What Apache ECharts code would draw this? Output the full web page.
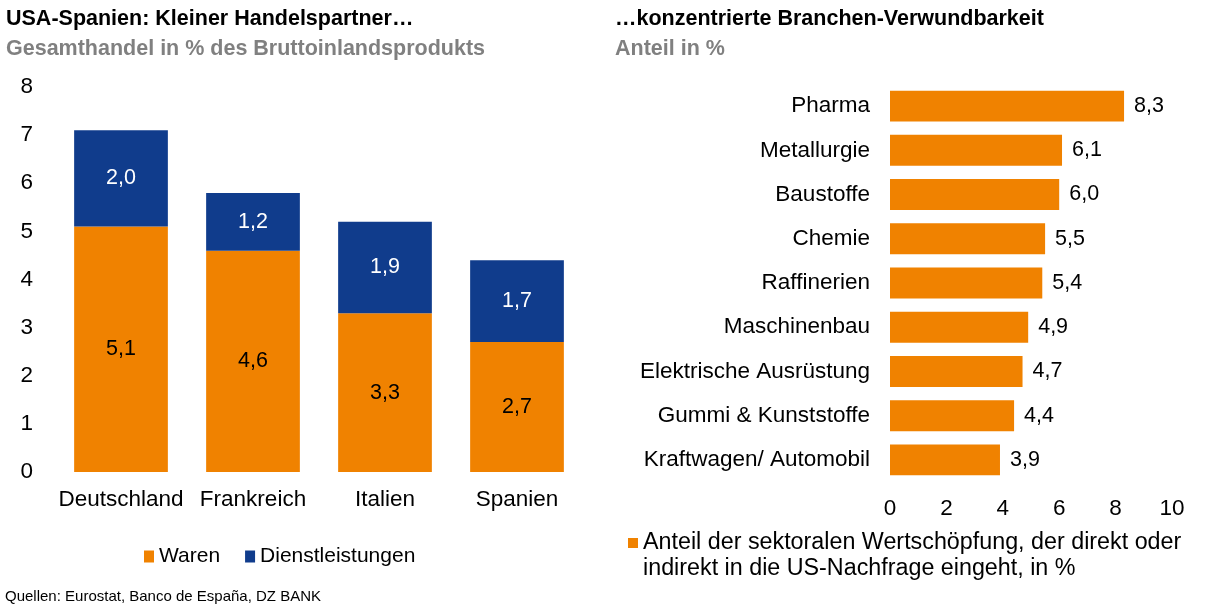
<!DOCTYPE html>
<html>
<head>
<meta charset="utf-8">
<script src="https://cdn.jsdelivr.net/npm/echarts@6/dist/echarts.min.js"></script>
<style>
  html, body { margin: 0; padding: 0; background: #fff; }
  #chart { width: 1210px; height: 615px; }
</style>
</head>
<body>
<div id="chart"></div>
<script>
// left: trade with USA in % of GDP
var countries = ["Deutschland", "Frankreich", "Italien", "Spanien"];
var waren = [5.1, 4.6, 3.3, 2.7];
var dienstleistungen = [2.0, 1.2, 1.9, 1.7];
var leftTicks = [0, 1, 2, 3, 4, 5, 6, 7, 8];

// right: sector exposure
var branchen = ["Pharma", "Metallurgie", "Baustoffe", "Chemie", "Raffinerien",
    "Maschinenbau", "Elektrische Ausrüstung", "Gummi & Kunststoffe", "Kraftwagen/ Automobil"];
var anteil = [8.3, 6.1, 6.0, 5.5, 5.4, 4.9, 4.7, 4.4, 3.9];
var rightTicks = [0, 2, 4, 6, 8, 10];
var rightName = "Anteil der sektoralen Wertschöpfung, der direkt oder\nindirekt in die US-Nachfrage eingeht, in %";

var orange = "#F08200";
var blue = "#103C8C";
var font = "'Liberation Sans', Arial, sans-serif";

function fmt(v) {
    return v.toFixed(1).replace(".", ",");
}

var chart = echarts.init(document.getElementById("chart"), null, { renderer: "canvas" });

chart.setOption({
    animation: false,
    textStyle: { fontFamily: font },
    title: [
        {
            text: "USA-Spanien: Kleiner Handelspartner…",
            subtext: "Gesamthandel in % des Bruttoinlandsprodukts",
            left: 1, top: 3, itemGap: 8,
            textStyle: { fontFamily: font, fontSize: 21.5, fontWeight: "bold", color: "#000" },
            subtextStyle: { fontFamily: font, fontSize: 21.5, fontWeight: "bold", color: "#808080" }
        },
        {
            text: "…konzentrierte Branchen-Verwundbarkeit",
            subtext: "Anteil in %",
            left: 610, top: 3, itemGap: 8,
            textStyle: { fontFamily: font, fontSize: 21.5, fontWeight: "bold", color: "#000" },
            subtextStyle: { fontFamily: font, fontSize: 21.5, fontWeight: "bold", color: "#808080" }
        },
        {
            text: "Quellen: Eurostat, Banco de España, DZ BANK",
            left: 0, top: 584,
            textStyle: { fontFamily: font, fontSize: 15, fontWeight: "normal", color: "#000" }
        }
    ],
    legend: [
        {
            data: ["Waren", "Dienstleistungen"],
            left: 139, top: 541,
            itemWidth: 10, itemHeight: 12, itemGap: 25,
            icon: "rect",
            textStyle: { fontFamily: font, fontSize: 21, color: "#000" }
        },
        {
            data: [rightName],
            left: 623, top: 525,
            itemWidth: 10, itemHeight: 36,
            // square sits at the first text line
            icon: "path://M0,0H10V10H0Z M0,36H0.01V36.01H0Z",
            textStyle: { fontFamily: font, fontSize: 23.3, color: "#000", lineHeight: 26 }
        }
    ],
    grid: [
        { left: 55, width: 528, top: 87, height: 385 },
        { left: 890, width: 282, top: 84, height: 398 }
    ],
    xAxis: [
        {
            gridIndex: 0, type: "category", data: countries,
            axisLine: { show: false }, axisTick: { show: false },
            axisLabel: { fontFamily: font, fontSize: 22.5, color: "#000", margin: 16, interval: 0 }
        },
        {
            gridIndex: 1, type: "value", min: rightTicks[0], max: rightTicks[rightTicks.length - 1], interval: 2,
            splitLine: { show: false },
            axisLine: { show: false }, axisTick: { show: false },
            axisLabel: { fontFamily: font, fontSize: 22.5, color: "#000", margin: 15 }
        }
    ],
    yAxis: [
        {
            gridIndex: 0, type: "value", min: leftTicks[0], max: leftTicks[leftTicks.length - 1], interval: 1,
            splitLine: { show: false },
            axisLine: { show: false }, axisTick: { show: false },
            axisLabel: { fontFamily: font, fontSize: 22.5, color: "#000", margin: 22 }
        },
        {
            gridIndex: 1, type: "category", data: branchen, inverse: true,
            axisLine: { show: false }, axisTick: { show: false },
            axisLabel: { fontFamily: font, fontSize: 22.5, color: "#000", margin: 20, interval: 0 }
        }
    ],
    series: [
        {
            name: "Waren", type: "bar", stack: "a", xAxisIndex: 0, yAxisIndex: 0,
            data: waren, barWidth: "71%", itemStyle: { color: orange },
            label: {
                show: true, position: "inside", color: "#000", fontSize: 21.5, fontFamily: font,
                formatter: function (p) { return fmt(p.value); }
            }
        },
        {
            name: "Dienstleistungen", type: "bar", stack: "a", xAxisIndex: 0, yAxisIndex: 0,
            data: dienstleistungen, barWidth: "71%", itemStyle: { color: blue },
            label: {
                show: true, position: "inside", color: "#fff", fontSize: 21.5, fontFamily: font,
                formatter: function (p) { return fmt(p.value); }
            }
        },
        {
            name: rightName,
            type: "bar", xAxisIndex: 1, yAxisIndex: 1,
            data: anteil, barWidth: "70%", itemStyle: { color: orange },
            label: {
                show: true, position: "right", distance: 10, color: "#000", fontSize: 21.5, fontFamily: font,
                formatter: function (p) { return fmt(p.value); }
            }
        }
    ]
});
</script>
</body>
</html>
